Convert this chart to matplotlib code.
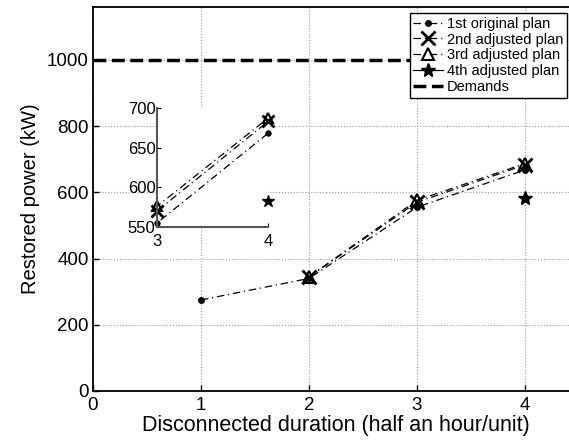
import matplotlib
matplotlib.use('Agg')
import matplotlib.pyplot as plt

plt.rcParams['font.family'] = ['Liberation Sans', 'DejaVu Sans']

# plan data (restored power in kW)
x_1st = [1, 2, 3, 4]
p_1st = [275, 340, 555, 668]
x_2nd = [2, 3, 4]
p_2nd = [345, 570, 683]
x_3rd = [2, 3, 4]
p_3rd = [345, 576, 687]
x_4th = [4]
p_4th = [583]
demand = 1000

x_ticks = [0, 1, 2, 3, 4]
y_ticks = [0, 200, 400, 600, 800, 1000]
inset_xticks = [3, 4]
inset_yticks = [550, 600, 650, 700]

DASHDOT = (0, (6, 3, 1, 3))

plans = [
    (x_1st, p_1st, DASHDOT, 'o', 4, 'k', 1.0, '1st original plan'),
    (x_2nd, p_2nd, DASHDOT, 'x', 10, 'k', 2.0, '2nd adjusted plan'),
    (x_3rd, p_3rd, DASHDOT, '^', 8, 'none', 1.5, '3rd adjusted plan'),
    (x_4th, p_4th, '-', '*', 10, 'k', 1.0, '4th adjusted plan'),
]

fig = plt.figure(figsize=(5.69, 4.43), dpi=100)
ax = fig.add_axes([0.1634, 0.1174, 0.854, 0.8668])

for xs, ys, ls, mk, ms, mfc, mew, lab in plans:
    ax.plot(xs, ys, ls=ls, color='k', lw=0.9, marker=mk, ms=ms, mfc=mfc,
            mew=mew, label=lab)
ax.plot([0, 4.5], [demand, demand], '--', color='k', lw=2.5, label='Demands')

ax.set_xlim(0, 4.5)
ax.set_ylim(0, 1160)
ax.set_xticks(x_ticks)
ax.set_yticks(y_ticks)
ax.tick_params(direction='in', labelsize=13.5, length=4, width=1, pad=4)
ax.tick_params(axis='y', pad=3)
ax.grid(True, linestyle=':', color='#999999', lw=0.8)
for s in ax.spines.values():
    s.set_linewidth(1.3)
ax.set_xlabel('Disconnected duration (half an hour/unit)', fontsize=15.5, labelpad=1)
ax.set_ylabel('Restored power (kW)', fontsize=14.5, labelpad=5)

leg = ax.legend(loc='upper right', bbox_to_anchor=(567 / 569, 1 - 13 / 443),
                bbox_transform=fig.transFigure, borderaxespad=0,
                fontsize=10.5, fancybox=False, framealpha=1, edgecolor='k',
                handlelength=2.0, labelspacing=0.13, borderpad=0.25,
                handletextpad=0.3)
leg.get_frame().set_linewidth(1.0)

# inset zoom on durations 3-4
ins = fig.add_axes([0.2759, 0.4876, 0.195, 0.2686])
for xs, ys, ls, mk, ms, mfc, mew, lab in plans:
    ins.plot(xs, ys, ls=ls, color='k', lw=0.9)
    pts = [(x, y) for x, y in zip(xs, ys) if x >= 3]
    ins.plot([p[0] for p in pts], [p[1] for p in pts], ls='none', color='k',
             marker=mk, ms=ms * 0.9, mfc=mfc, mew=mew, clip_on=False)
ins.set_xlim(3, 4)
ins.set_ylim(550, 700)
ins.set_xticks(inset_xticks)
ins.set_yticks(inset_yticks)
ins.tick_params(direction='in', labelsize=12, length=3, pad=1)
ins.tick_params(axis='x', pad=5)
ins.spines['top'].set_visible(False)
ins.spines['right'].set_visible(False)
for s in ['left', 'bottom']:
    ins.spines[s].set_color('#555555')
    ins.spines[s].set_linewidth(1.5)

fig.savefig('out.png', dpi=100)
